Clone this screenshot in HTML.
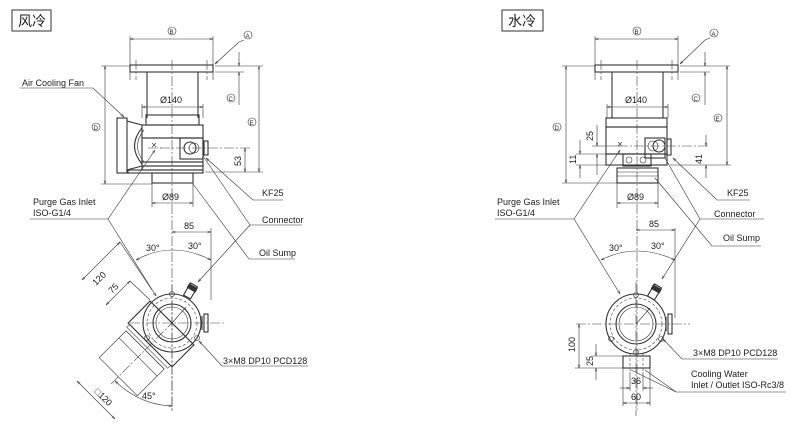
<!DOCTYPE html>
<html><head><meta charset="utf-8"><style>
html,body{margin:0;padding:0;background:#fff;width:800px;height:430px;overflow:hidden}
svg{display:block}
text{font-family:"Liberation Sans","Noto Sans CJK SC",sans-serif;font-size:9px;fill:#222}
.l{stroke:#333;stroke-width:.8;fill:none}
.t{stroke:#333;stroke-width:1.1;fill:none}
.c{stroke:#444;stroke-width:.6;fill:none;stroke-dasharray:10 2 2 2}
.d{stroke:#444;stroke-width:.6;fill:none;stroke-dasharray:3 2}
.k{stroke:#333;stroke-width:.6;fill:none}
</style></head><body>
<svg width="800" height="430" viewBox="0 0 800 430" xmlns="http://www.w3.org/2000/svg">
<defs>
<marker id="a" viewBox="0 0 10 10" refX="10" refY="5" markerWidth="6" markerHeight="6" orient="auto-start-reverse"><path d="M0,2 L10,5 L0,8" fill="none" stroke="#333" stroke-width="1.2"/></marker>
</defs>

<!-- ============ LEFT ============ -->
<rect x="12" y="10" width="39" height="21" fill="#fff" stroke="#333" stroke-width="1"/>
<text x="18" y="26" style="font-size:14px">风冷</text>

<g id="topview">
<line class="c" x1="172" y1="60" x2="172" y2="412"/>
<circle cx="172" cy="31" r="4" class="k"/><text x="169.5" y="34" style="font-size:6px">B</text>
<line class="k" x1="130" y1="36" x2="130" y2="80"/><line class="k" x1="213" y1="36" x2="213" y2="80"/>
<line class="k" x1="130" y1="39" x2="213" y2="39" marker-start="url(#a)" marker-end="url(#a)"/>
<rect class="t" x="130" y="65" width="83" height="7"/>
<line class="c" x1="136" y1="60" x2="136" y2="80"/><line class="c" x1="207" y1="60" x2="207" y2="80"/>
<line class="t" x1="147" y1="72" x2="147" y2="118"/><line class="t" x1="198" y1="72" x2="198" y2="118"/>
<text x="160" y="103">Ø140</text>
<line class="k" x1="142" y1="107" x2="203" y2="107" marker-start="url(#a)" marker-end="url(#a)"/>
<line class="k" x1="142" y1="104" x2="142" y2="118"/><line class="k" x1="203" y1="104" x2="203" y2="118"/>
</g>

<rect class="t" x="146" y="115" width="53" height="10"/>
<rect class="t" x="142" y="125" width="61" height="13"/>
<rect class="t" x="142" y="138" width="61" height="24"/>
<rect class="t" x="180" y="138" width="23" height="21"/>
<circle class="t" cx="190" cy="148" r="6"/><circle class="k" cx="194" cy="148" r="5"/>
<rect class="t" x="204" y="141" width="4" height="14"/>
<line class="c" x1="160" y1="148" x2="250" y2="148"/>
<line class="c" x1="148" y1="148" x2="162" y2="148"/>
<path class="k" d="M152,143 l4,4 m0,-4 l-4,4"/>
<rect class="t" x="142" y="162" width="61" height="4"/><rect class="t" x="142" y="166" width="61" height="4"/>
<rect class="t" x="128" y="170" width="75" height="3"/>
<rect class="t" x="117" y="118" width="10" height="55"/>
<path class="t" d="M127,121 L142,125 M127,170 L142,166"/>
<path class="t" d="M142,128 Q127,146 142,164"/><path class="k" d="M144,130 Q131,146 144,162"/>
<rect class="t" x="152" y="173" width="41" height="10"/>
<line class="k" x1="152" y1="183" x2="152" y2="207"/><line class="k" x1="193" y1="183" x2="193" y2="207"/>
<line class="k" x1="152" y1="203" x2="193" y2="203" marker-start="url(#a)" marker-end="url(#a)"/>
<text x="162" y="200">Ø89</text>
<circle cx="248" cy="35" r="4" class="k"/><text x="245.5" y="38" style="font-size:6px">A</text>
<path class="k" d="M244,40 L239,42 L215,64" marker-end="url(#a)"/>
<line class="k" x1="239" y1="52" x2="239" y2="66" marker-end="url(#a)"/>
<line class="k" x1="239" y1="105" x2="239" y2="72" marker-end="url(#a)"/>
<line class="k" x1="215" y1="66" x2="244" y2="66"/><line class="k" x1="215" y1="72" x2="244" y2="72"/>
<circle cx="231" cy="98" r="4" class="k"/><text x="228.5" y="101" style="font-size:6px">C</text>
<line class="k" x1="259" y1="66" x2="259" y2="172" marker-start="url(#a)" marker-end="url(#a)"/>
<line class="k" x1="244" y1="66" x2="263" y2="66"/><line class="k" x1="205" y1="172" x2="263" y2="172"/>
<circle cx="252" cy="122" r="4" class="k"/><text x="249.5" y="125" style="font-size:6px">E</text>
<line class="k" x1="245" y1="148" x2="245" y2="172" marker-start="url(#a)" marker-end="url(#a)"/>
<text transform="translate(241,166) rotate(-90)">53</text>
<line class="k" x1="105" y1="66" x2="105" y2="184" marker-start="url(#a)" marker-end="url(#a)"/>
<line class="k" x1="101" y1="66" x2="130" y2="66"/><line class="k" x1="101" y1="184" x2="152" y2="184"/>
<circle cx="96" cy="127" r="4" class="k"/><text x="93.5" y="130" style="font-size:6px">D</text>
<text x="22" y="86">Air Cooling Fan</text>
<path class="k" d="M20,88 L93,88 L124,117" marker-end="url(#a)"/>
<text x="262" y="196">KF25</text>
<path class="k" d="M283,200 L253,200 L206,158" marker-end="url(#a)"/>
<text x="33" y="205">Purge Gas Inlet</text><text x="33" y="216">ISO-G1/4</text>
<path class="k" d="M30,219 L108,219"/>
<line class="k" x1="108" y1="219" x2="155" y2="150" marker-end="url(#a)"/>
<line class="k" x1="108" y1="219" x2="156" y2="296" marker-end="url(#a)"/>
<text x="262" y="223">Connector</text>
<path class="k" d="M302,225 L250,225"/>
<line class="k" x1="250" y1="225" x2="198" y2="282" marker-end="url(#a)"/>
<line class="k" x1="250" y1="225" x2="203" y2="156"/>
<text x="259" y="256">Oil Sump</text>
<path class="k" d="M295,259 L249,259 L193,184"/>

<line class="k" x1="211" y1="228" x2="211" y2="300"/>
<line class="k" x1="172" y1="232" x2="211" y2="232" marker-start="url(#a)" marker-end="url(#a)"/>
<text x="184" y="229">85</text>
<path class="k" d="M136,260 Q172,240 211,260" marker-start="url(#a)" marker-end="url(#a)"/>
<text x="146" y="251">30°</text><text x="188" y="249">30°</text>
<g transform="rotate(-45 172 323)">
<rect class="t" x="141" y="292" width="31" height="62" fill="#fff"/>
<rect class="k" x="137" y="294" width="4" height="58"/>
<line class="k" x1="134" y1="296" x2="134" y2="350"/>
<rect class="k" x="96" y="296" width="38" height="54"/>
<line class="k" x1="124" y1="296" x2="124" y2="350"/>
<line class="c" x1="86" y1="323" x2="172" y2="323"/>
</g>
<circle class="t" cx="172" cy="323" r="29" fill="#fff"/>
<circle class="d" cx="172" cy="323" r="25"/>
<circle class="t" cx="172" cy="323" r="19"/><circle class="k" cx="172" cy="323" r="16"/>
<line class="c" x1="130" y1="323" x2="225" y2="323"/>
<line class="c" x1="172" y1="285" x2="172" y2="412"/>
<rect class="t" x="204" y="314" width="4" height="18"/><line class="t" x1="202" y1="316" x2="202" y2="330"/>
<g transform="rotate(30 172 323)"><rect class="t" x="168" y="279" width="8" height="14"/><rect x="167" y="280" width="10" height="5" fill="#333"/></g>
<circle class="k" cx="172" cy="294" r="2.5"/><circle class="k" cx="147" cy="338" r="2.5"/><circle class="k" cx="197" cy="338" r="2.5"/>
<line class="k" x1="172" y1="323" x2="186" y2="307"/>
<text x="223" y="364">3×M8 DP10 PCD128</text>
<path class="k" d="M308,366 L222,366 L199,341" marker-end="url(#a)"/>
<line class="k" x1="82" y1="280" x2="120" y2="242" marker-start="url(#a)" marker-end="url(#a)"/>
<line class="k" x1="106" y1="305" x2="130" y2="281" marker-start="url(#a)" marker-end="url(#a)"/>
<line class="k" x1="120" y1="242" x2="152" y2="290"/><line class="k" x1="130" y1="281" x2="150" y2="300"/>
<text transform="translate(96,286) rotate(-45)">120</text>
<text transform="translate(112,294) rotate(-45)">75</text>
<line class="k" x1="77" y1="381" x2="115" y2="419" marker-start="url(#a)" marker-end="url(#a)"/>
<text transform="translate(94,392) rotate(45)">□120</text>
<path class="k" d="M115,381 Q140,405 172,406" marker-start="url(#a)" marker-end="url(#a)"/>
<text x="142" y="399">45°</text>

<!-- ============ RIGHT ============ -->
<rect x="502" y="10" width="41" height="21" fill="#fff" stroke="#333" stroke-width="1"/>
<text x="508" y="26" style="font-size:14px">水冷</text>
<use href="#topview" transform="translate(465 0)"/>
<rect class="t" x="606" y="118" width="61" height="9"/>
<rect class="t" x="606" y="127" width="61" height="27"/>
<rect class="t" x="623" y="154" width="28" height="12"/>
<circle class="k" cx="629" cy="160" r="3"/><circle class="k" cx="643" cy="160" r="3"/>
<rect class="t" x="606" y="154" width="61" height="11"/>
<rect class="t" x="645" y="138" width="20" height="20"/>
<circle class="t" cx="659" cy="146" r="6"/><circle class="k" cx="653" cy="146" r="5"/>
<rect class="t" x="667" y="139" width="4" height="16"/>
<line class="c" x1="618" y1="146" x2="710" y2="146"/>
<path class="k" d="M618,142 l4,4 m0,-4 l-4,4"/>
<rect class="t" x="617" y="168" width="41" height="15"/>
<line class="k" x1="617" y1="172" x2="658" y2="172"/><line class="k" x1="617" y1="176" x2="658" y2="176"/>
<line class="k" x1="617" y1="183" x2="617" y2="208"/><line class="k" x1="658" y1="183" x2="658" y2="208"/>
<line class="k" x1="617" y1="203" x2="658" y2="203" marker-start="url(#a)" marker-end="url(#a)"/>
<text x="627" y="200">Ø89</text>
<circle cx="714" cy="33" r="4" class="k"/><text x="711.5" y="36" style="font-size:6px">A</text>
<path class="k" d="M710,38 L705,40 L680,64" marker-end="url(#a)"/>
<line class="k" x1="705" y1="52" x2="705" y2="66" marker-end="url(#a)"/>
<line class="k" x1="705" y1="105" x2="705" y2="72" marker-end="url(#a)"/>
<line class="k" x1="680" y1="66" x2="730" y2="66"/><line class="k" x1="680" y1="72" x2="710" y2="72"/>
<circle cx="696" cy="98" r="4" class="k"/><text x="693.5" y="101" style="font-size:6px">C</text>
<line class="k" x1="727" y1="66" x2="727" y2="165" marker-start="url(#a)" marker-end="url(#a)"/>
<line class="k" x1="670" y1="165" x2="731" y2="165"/>
<circle cx="718" cy="118" r="4" class="k"/><text x="715.5" y="121" style="font-size:6px">E</text>
<line class="k" x1="706" y1="135" x2="706" y2="146" marker-end="url(#a)"/>
<line class="k" x1="706" y1="178" x2="706" y2="165" marker-end="url(#a)"/>
<text transform="translate(702,164) rotate(-90)">41</text>
<line class="k" x1="566" y1="66" x2="566" y2="183" marker-start="url(#a)" marker-end="url(#a)"/>
<line class="k" x1="562" y1="66" x2="595" y2="66"/><line class="k" x1="562" y1="183" x2="617" y2="183"/>
<circle cx="557" cy="127" r="4" class="k"/><text x="554.5" y="130" style="font-size:6px">D</text>
<line class="k" x1="597" y1="125" x2="597" y2="146" marker-end="url(#a)"/>
<line class="k" x1="597" y1="175" x2="597" y2="154" marker-end="url(#a)"/>
<line class="k" x1="592" y1="146" x2="620" y2="146"/><line class="k" x1="576" y1="154" x2="606" y2="154"/><line class="k" x1="576" y1="165" x2="606" y2="165"/>
<text transform="translate(593,141) rotate(-90)">25</text>
<line class="k" x1="580" y1="140" x2="580" y2="154" marker-end="url(#a)"/>
<line class="k" x1="580" y1="178" x2="580" y2="165" marker-end="url(#a)"/>
<text transform="translate(576,164) rotate(-90)">11</text>
<text x="727" y="196">KF25</text>
<path class="k" d="M750,200 L717,200 L673,158" marker-end="url(#a)"/>
<text x="497" y="205">Purge Gas Inlet</text><text x="497" y="216">ISO-G1/4</text>
<path class="k" d="M495,219 L574,219"/>
<line class="k" x1="574" y1="219" x2="620" y2="150" marker-end="url(#a)"/>
<line class="k" x1="574" y1="219" x2="620" y2="294" marker-end="url(#a)"/>
<text x="714" y="217">Connector</text>
<path class="k" d="M764,219 L700,219"/>
<line class="k" x1="700" y1="219" x2="662" y2="279" marker-end="url(#a)"/>
<line class="k" x1="700" y1="219" x2="665" y2="158"/>
<text x="723" y="241">Oil Sump</text>
<path class="k" d="M761,246 L712,246 L655,178"/>

<line class="k" x1="675" y1="228" x2="675" y2="318"/>
<line class="k" x1="636" y1="230" x2="675" y2="230" marker-start="url(#a)" marker-end="url(#a)"/>
<text x="649" y="227">85</text>
<path class="k" d="M601,260 Q636,242 675,260" marker-start="url(#a)" marker-end="url(#a)"/>
<text x="609" y="251">30°</text><text x="651" y="249">30°</text>
<circle class="t" cx="636" cy="324" r="30"/>
<circle class="d" cx="636" cy="324" r="26"/>
<circle class="t" cx="636" cy="324" r="20"/><circle class="k" cx="636" cy="324" r="17"/>
<line class="c" x1="576" y1="324" x2="690" y2="324"/>
<line class="c" x1="636" y1="282" x2="636" y2="416"/>
<rect class="t" x="668" y="314" width="4" height="20"/><line class="t" x1="666" y1="317" x2="666" y2="331"/>
<g transform="rotate(30 636 324)"><rect class="t" x="632" y="280" width="8" height="14"/><rect x="631" y="281" width="10" height="5" fill="#333"/></g>
<circle class="k" cx="636" cy="295" r="2.5"/><circle class="k" cx="611" cy="339" r="2.5"/><circle class="k" cx="661" cy="339" r="2.5"/><circle class="k" cx="636" cy="352" r="2.5"/>
<line class="k" x1="636" y1="324" x2="650" y2="308"/>
<text x="693" y="356">3×M8 DP10 PCD128</text>
<path class="k" d="M778,359 L682,359 L663,339" marker-end="url(#a)"/>
<rect class="t" x="623" y="356" width="27" height="12"/>
<line class="d" x1="630" y1="353" x2="630" y2="372"/><line class="d" x1="643" y1="353" x2="643" y2="372"/>
<line class="k" x1="579" y1="324" x2="579" y2="368" marker-start="url(#a)" marker-end="url(#a)"/>
<line class="k" x1="575" y1="368" x2="623" y2="368"/><line class="k" x1="592" y1="356" x2="623" y2="356"/>
<text transform="translate(575,352) rotate(-90)">100</text>
<line class="k" x1="596" y1="344" x2="596" y2="356" marker-end="url(#a)"/>
<line class="k" x1="596" y1="380" x2="596" y2="368" marker-end="url(#a)"/>
<text transform="translate(593,366) rotate(-90)">25</text>
<line class="k" x1="623" y1="368" x2="623" y2="406"/><line class="k" x1="650" y1="368" x2="650" y2="406"/>
<line class="k" x1="630" y1="372" x2="630" y2="391"/><line class="k" x1="643" y1="372" x2="643" y2="391"/>
<line class="k" x1="620" y1="388" x2="630" y2="388" marker-end="url(#a)"/>
<line class="k" x1="653" y1="388" x2="643" y2="388" marker-end="url(#a)"/>
<text x="631" y="384">36</text>
<line class="k" x1="623" y1="403" x2="650" y2="403" marker-start="url(#a)" marker-end="url(#a)"/>
<text x="631" y="400">60</text>
<text x="691" y="377">Cooling Water</text>
<text x="691" y="388">Inlet / Outlet ISO-Rc3/8</text>
<path class="k" d="M786,392 L676,392 L631,370"/>
<line class="k" x1="676" y1="392" x2="645" y2="370"/>
</svg>
</body></html>
